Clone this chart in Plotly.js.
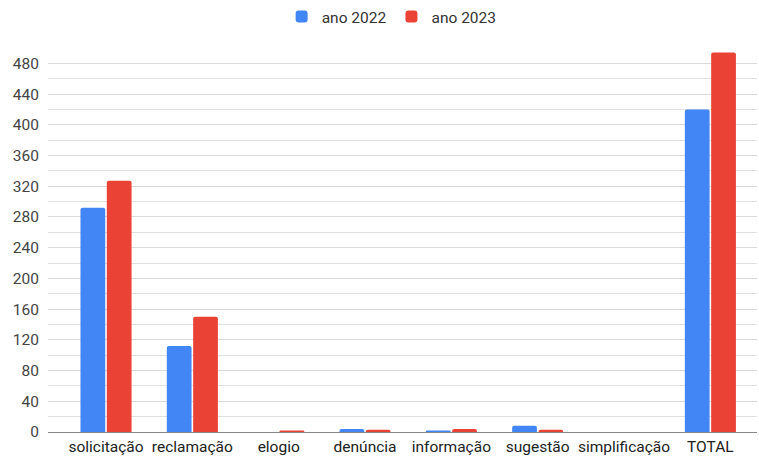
<!DOCTYPE html>
<html>
<head>
<meta charset="utf-8">
<script src="https://cdn.plot.ly/plotly-3.0.1.min.js"></script>
<style>
  html, body { margin: 0; padding: 0; background: #fff; }
  #chart { width: 759px; height: 459px; }
</style>
</head>
<body>
<div id="chart"></div>
<script>
// Manifestações por tipo, comparativo 2022 x 2023
const categories = ['solicitação', 'reclamação', 'elogio', 'denúncia', 'informação', 'sugestão', 'simplificação', 'TOTAL'];
const ano2022 = [292, 112, 0, 4, 2, 8, 0, 420];
const ano2023 = [327, 150, 2, 3, 4, 3, 0, 494];
const yTicks = [0, 40, 80, 120, 160, 200, 240, 280, 320, 360, 400, 440, 480];

const traces = [
  { type: 'bar', name: 'ano 2022', x: categories, y: ano2022,
    marker: { color: '#4285F4', cornerradius: 2 }, hoverinfo: 'x+y' },
  { type: 'bar', name: 'ano 2023', x: categories, y: ano2023,
    marker: { color: '#EA4335', cornerradius: 2 }, hoverinfo: 'x+y' }
];

const layout = {
  width: 759, height: 459,
  margin: { l: 48, r: 2, t: 48, b: 27 },
  paper_bgcolor: '#fff', plot_bgcolor: '#fff',
  font: { family: 'Roboto, Arial, sans-serif', size: 15.5, color: '#444' },
  barmode: 'group', bargap: 0.39, bargroupgap: 0.06,
  showlegend: true,
  legend: { orientation: 'h', x: 0.516, xanchor: 'center', xref: 'container',
            y: 1.0, yanchor: 'top', yref: 'container',
            font: { size: 15.5, color: '#333' }, itemwidth: 30 },
  xaxis: { type: 'category', range: [-0.672, 7.54], showgrid: false, zeroline: false,
           showline: true, linecolor: '#888', linewidth: 1, ticks: '',
           tickfont: { size: 15.5, color: '#222' }, fixedrange: true },
  yaxis: { range: [0, 500], tickvals: yTicks, ticktext: yTicks.map(String),
           showgrid: true, gridcolor: '#d9d9d9', gridwidth: 1,
           minor: { dtick: 20, tick0: 0, showgrid: true, gridcolor: '#e0e0e0', gridwidth: 1 },
           zeroline: false, showline: false, ticks: '', ticklabelstandoff: 8,
           tickfont: { size: 15.5, color: '#444' }, fixedrange: true }
};

Plotly.newPlot('chart', traces, layout, { displayModeBar: false, staticPlot: true });
</script>
</body>
</html>
